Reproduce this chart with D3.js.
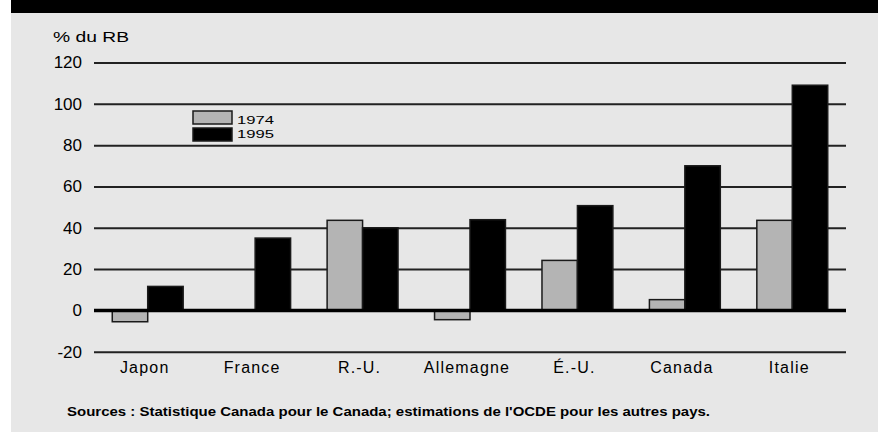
<!DOCTYPE html>
<html><head><meta charset="utf-8">
<script src="https://cdn.jsdelivr.net/npm/d3@7"></script>
<style>html,body{margin:0;padding:0;background:#fff;}svg{display:block;}</style>
</head><body>
<svg id="c" width="878" height="432"></svg>
<script>
const categories = ["Japon","France","R.-U.","Allemagne","É.-U.","Canada","Italie"];
const series = ["1974","1995"];
const values1974 = [-5.5, 0, 43.6, -4.5, 24.2, 5.2, 43.6];
const values1995 = [11.6, 35, 40, 43.9, 50.7, 70, 109];
const yTicks = [-20, 0, 20, 40, 60, 80, 100, 120];
const yLabel = "% du RB";
const sourceText = "Sources : Statistique Canada pour le Canada; estimations de l'OCDE pour les autres pays.";

const svg = d3.select("#c");
const W = 878, H = 432;
const font = "'Liberation Sans', Arial, sans-serif";

svg.append("rect").attr("x", 11).attr("y", 0).attr("width", W - 11).attr("height", H).attr("fill", "#e7e7e7");
svg.append("rect").attr("x", 11).attr("y", 0).attr("width", W - 11).attr("height", 13).attr("fill", "#000");

const x0 = d3.scaleBand().domain(categories).range([94, 846]).paddingInner(0.34).paddingOuter(0.17);
const x1 = d3.scaleBand().domain(series).range([0, x0.bandwidth()]);
const y = d3.scaleLinear().domain([-20, 120]).range([351.7, 62.5]);
const color = d3.scaleOrdinal().domain(series).range(["#b4b4b4", "#000"]);

// gridlines
const yAxis = d3.axisLeft(y).tickValues(yTicks).tickFormat(d => String(d)).tickSize(-(846 - 94)).tickPadding(12);
const gAx = svg.append("g").attr("transform", "translate(94,0)").call(yAxis);
gAx.select(".domain").remove();
gAx.selectAll(".tick line").attr("stroke", "#222").attr("stroke-width", d => d === 0 ? 0 : 2);
gAx.selectAll(".tick text").attr("font-family", font).attr("font-size", 17).attr("fill", "#000").attr("x", -12);

// bars
const rows = categories.map((c, i) => ({c, v: [values1974[i], values1995[i]]}));
const g = svg.append("g");
rows.forEach(r => {
  series.forEach((s, j) => {
    const v = r.v[j];
    if (v === 0) return;
    g.append("rect")
      .attr("x", x0(r.c) + x1(s))
      .attr("y", y(Math.max(0, v)))
      .attr("width", x1.bandwidth())
      .attr("height", Math.abs(y(v) - y(0)))
      .attr("fill", color(s))
      .attr("stroke", "#1a1a1a").attr("stroke-width", 1.5);
  });
});

// zero line
svg.append("line").attr("x1", 94).attr("x2", 846).attr("y1", y(0)).attr("y2", y(0))
  .attr("stroke", "#000").attr("stroke-width", 3.5);

// x labels
const xAxis = d3.axisBottom(x0).tickSize(0).tickPadding(0);
const gx = svg.append("g").attr("transform", "translate(-3,362)").call(xAxis);
gx.select(".domain").remove();
gx.selectAll(".tick text").attr("font-family", font).attr("font-size", 16).attr("fill", "#000")
  .attr("dy", "0.71em").attr("letter-spacing", "1.2px");

// y label
svg.append("text").attr("x", 53).attr("y", 42).text(yLabel)
  .attr("font-family", font).attr("font-size", 14).attr("fill", "#000")
  .attr("textLength", 76).attr("lengthAdjust", "spacingAndGlyphs");

// legend
const legend = svg.append("g");
series.forEach((s, i) => {
  legend.append("rect").attr("x", 193).attr("y", 111 + i * 17).attr("width", 39).attr("height", 13)
    .attr("fill", color(s)).attr("stroke", "#1a1a1a").attr("stroke-width", 1.5);
  legend.append("text").attr("x", 237).attr("y", 124 + i * 14).text(s)
    .attr("font-family", font).attr("font-size", 11).attr("fill", "#000")
    .attr("textLength", 37).attr("lengthAdjust", "spacingAndGlyphs");
});

// source
svg.append("text").attr("x", 67).attr("y", 416).text(sourceText)
  .attr("font-family", font).attr("font-size", 12).attr("font-weight", "bold").attr("fill", "#000")
  .attr("textLength", 643).attr("lengthAdjust", "spacingAndGlyphs");
</script>
</body></html>
